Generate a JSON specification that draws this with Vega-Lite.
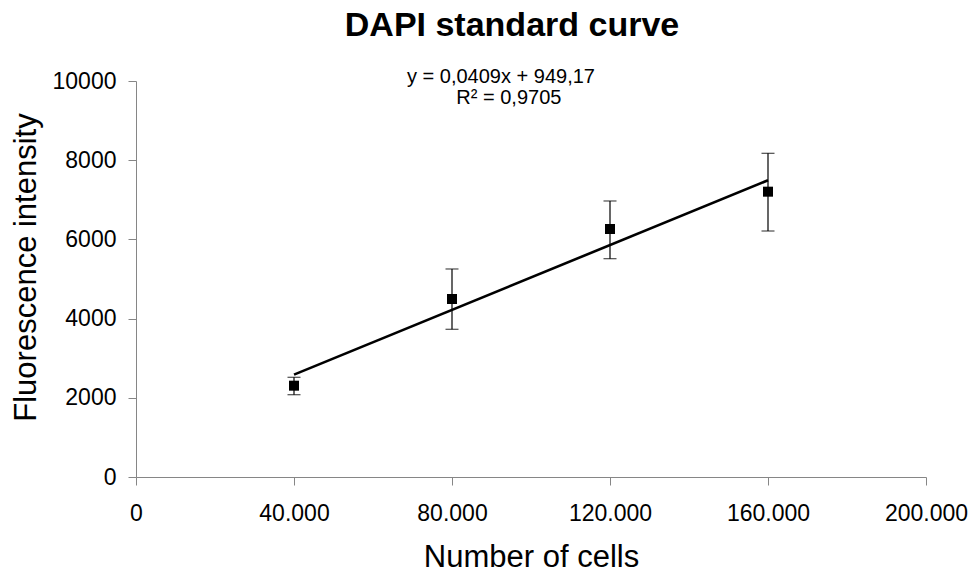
{
  "$schema": "https://vega.github.io/schema/vega-lite/v6.json",
  "width": 790,
  "height": 396,
  "autosize": {"type": "none"},
  "padding": {"left": 136, "top": 81, "right": 42, "bottom": 96},
  "background": "white",
  "config": {
    "view": {"stroke": null},
    "font": "Liberation Sans",
    "axis": {
      "grid": false,
      "domainColor": "#868686",
      "tickColor": "#868686",
      "tickSize": 8,
      "labelFont": "Liberation Sans",
      "labelFontSize": 23,
      "labelColor": "#000000",
      "titleFont": "Liberation Sans",
      "titleFontSize": 31,
      "titleFontWeight": "normal",
      "titleColor": "#000000",
      "labelFlush": false,
      "labelOverlap": false
    }
  },
  "title": {
    "text": "DAPI standard curve",
    "font": "Liberation Sans",
    "fontSize": 34,
    "fontWeight": "bold",
    "color": "#000000",
    "anchor": "middle",
    "baseline": "alphabetic",
    "dx": -19,
    "offset": -3
  },
  "datasets": {
    "points": [
      {"cells": 40000, "mean": 2306, "lo": 2078, "hi": 2518},
      {"cells": 80000, "mean": 4495, "lo": 3730, "hi": 5253},
      {"cells": 120000, "mean": 6263, "lo": 5513, "hi": 6970},
      {"cells": 160000, "mean": 7205, "lo": 6212, "hi": 8174}
    ],
    "fit": [
      {"cells": 40000, "fit": 2585.17},
      {"cells": 160000, "fit": 7493.17}
    ],
    "notes": [
      {"label": "y = 0,0409x + 949,17", "nx": 92400, "ny": 9949},
      {"label": "R² = 0,9705", "nx": 94400, "ny": 9419}
    ]
  },
  "layer": [
    {
      "data": {"name": "fit"},
      "mark": {"type": "line", "color": "#000000", "strokeWidth": 2.6},
      "encoding": {
        "x": {
          "field": "cells",
          "type": "quantitative",
          "scale": {"domain": [0, 200000], "nice": false},
          "axis": {
            "values": [0, 40000, 80000, 120000, 160000, 200000],
            "labelExpr": "replace(format(datum.value, ','), ',', '.')",
            "labelPadding": 17,
            "title": "Number of cells",
            "titleBaseline": "alphabetic",
            "titleY": 89
          }
        },
        "y": {
          "field": "fit",
          "type": "quantitative",
          "scale": {"domain": [0, 10000], "nice": false},
          "axis": {
            "values": [0, 2000, 4000, 6000, 8000, 10000],
            "format": "d",
            "labelPadding": 12,
            "title": "Fluorescence intensity",
            "titleBaseline": "alphabetic",
            "titleX": -101,
            "titleY": 186
          }
        }
      }
    },
    {
      "data": {"name": "points"},
      "mark": {"type": "rule", "color": "#000000", "strokeWidth": 1.2},
      "encoding": {
        "x": {"field": "cells", "type": "quantitative"},
        "y": {"field": "lo", "type": "quantitative"},
        "y2": {"field": "hi"}
      }
    },
    {
      "data": {"name": "points"},
      "mark": {"type": "tick", "orient": "horizontal", "color": "#000000", "size": 13, "thickness": 1.2},
      "encoding": {
        "x": {"field": "cells", "type": "quantitative"},
        "y": {"field": "lo", "type": "quantitative"}
      }
    },
    {
      "data": {"name": "points"},
      "mark": {"type": "tick", "orient": "horizontal", "color": "#000000", "size": 13, "thickness": 1.2},
      "encoding": {
        "x": {"field": "cells", "type": "quantitative"},
        "y": {"field": "hi", "type": "quantitative"}
      }
    },
    {
      "data": {"name": "points"},
      "mark": {"type": "point", "shape": "square", "filled": true, "color": "#000000", "opacity": 1, "size": 100},
      "encoding": {
        "x": {"field": "cells", "type": "quantitative"},
        "y": {"field": "mean", "type": "quantitative"}
      }
    },
    {
      "data": {"name": "notes"},
      "mark": {"type": "text", "font": "Liberation Sans", "fontSize": 20, "color": "#000000", "align": "center", "baseline": "alphabetic"},
      "encoding": {
        "x": {"field": "nx", "type": "quantitative"},
        "y": {"field": "ny", "type": "quantitative"},
        "text": {"field": "label"}
      }
    }
  ]
}
